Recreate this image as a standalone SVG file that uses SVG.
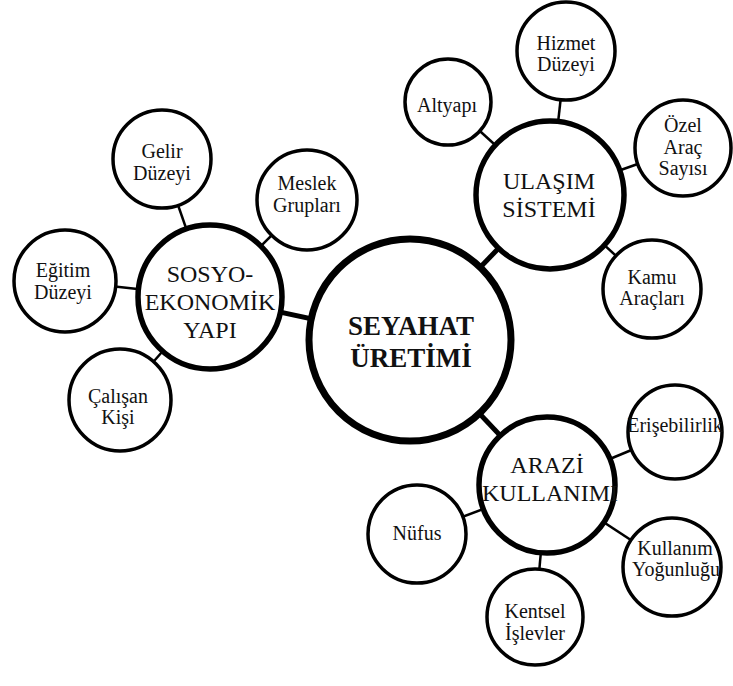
<svg xmlns="http://www.w3.org/2000/svg" width="733" height="686" viewBox="0 0 733 686">
  <style>
    .bg { fill: #ffffff; }
    .hub { fill: #ffffff; stroke: #000; stroke-width: 7; }
    .mid { fill: #ffffff; stroke: #000; stroke-width: 5.5; }
    .leaf { fill: #ffffff; stroke: #000; stroke-width: 3.5; }
    .link-main { stroke: #000; stroke-width: 5; }
    .link { stroke: #000; stroke-width: 2.5; }
    .t-hub { font-size: 27px; font-weight: bold; }
    .t-mid { font-size: 24px; }
    .t-leaf { font-size: 20px; }
  </style>
  <rect class="bg" x="0" y="0" width="733" height="686"/>

  <!-- connectors run centre to centre; the filled circles hide their inner parts -->
  <g id="connectors">
    <line class="link-main" x1="410" y1="340" x2="210" y2="297"/>
    <line class="link-main" x1="410" y1="340" x2="550" y2="195"/>
    <line class="link-main" x1="410" y1="340" x2="547" y2="485"/>
    <line class="link" x1="210" y1="297" x2="162" y2="159"/>
    <line class="link" x1="210" y1="297" x2="307" y2="200"/>
    <line class="link" x1="210" y1="297" x2="65" y2="281"/>
    <line class="link" x1="210" y1="297" x2="120" y2="400"/>
    <line class="link" x1="550" y1="195" x2="448" y2="102"/>
    <line class="link" x1="550" y1="195" x2="566" y2="51"/>
    <line class="link" x1="550" y1="195" x2="683" y2="148"/>
    <line class="link" x1="550" y1="195" x2="652" y2="289"/>
    <line class="link" x1="547" y1="485" x2="675" y2="432"/>
    <line class="link" x1="547" y1="485" x2="672" y2="567"/>
    <line class="link" x1="547" y1="485" x2="535" y2="617"/>
    <line class="link" x1="547" y1="485" x2="417" y2="534"/>
  </g>

  <g font-family="'Liberation Serif', 'DejaVu Serif', serif" fill="#111" text-anchor="middle">
  <g id="seyahat-uretimi">
    <circle class="hub" cx="410" cy="340" r="101"/>
    <text class="t-hub" x="411" y="335">SEYAHAT</text>
    <text class="t-hub" x="411" y="367">ÜRETİMİ</text>
  </g>

  <g id="sosyo-ekonomik-yapi">
    <circle class="mid" cx="210" cy="297" r="72"/>
    <text class="t-mid" x="210" y="282">SOSYO-</text>
    <text class="t-mid" x="210" y="310">EKONOMİK</text>
    <text class="t-mid" x="210" y="338">YAPI</text>
  </g>

  <g id="ulasim-sistemi">
    <circle class="mid" cx="550" cy="195" r="74"/>
    <text class="t-mid" x="549" y="189">ULAŞIM</text>
    <text class="t-mid" x="549" y="217">SİSTEMİ</text>
  </g>

  <g id="arazi-kullanimi">
    <circle class="mid" cx="547" cy="485" r="68"/>
    <text class="t-mid" x="547" y="473">ARAZİ</text>
    <text class="t-mid" x="550" y="501">KULLANIMI</text>
  </g>

  <g id="gelir-duzeyi">
    <circle class="leaf" cx="162" cy="159" r="49"/>
    <text class="t-leaf" x="162" y="158">Gelir</text>
    <text class="t-leaf" x="162" y="180">Düzeyi</text>
  </g>

  <g id="meslek-gruplari">
    <circle class="leaf" cx="307" cy="200" r="50"/>
    <text class="t-leaf" x="307" y="190">Meslek</text>
    <text class="t-leaf" x="307" y="212">Grupları</text>
  </g>

  <g id="egitim-duzeyi">
    <circle class="leaf" cx="65" cy="281" r="51"/>
    <text class="t-leaf" x="63" y="277">Eğitim</text>
    <text class="t-leaf" x="63" y="299">Düzeyi</text>
  </g>

  <g id="calisan-kisi">
    <circle class="leaf" cx="120" cy="400" r="51"/>
    <text class="t-leaf" x="118" y="403">Çalışan</text>
    <text class="t-leaf" x="118" y="424">Kişi</text>
  </g>

  <g id="altyapi">
    <circle class="leaf" cx="448" cy="102" r="43"/>
    <text class="t-leaf" x="447" y="112">Altyapı</text>
  </g>

  <g id="hizmet-duzeyi">
    <circle class="leaf" cx="566" cy="51" r="49"/>
    <text class="t-leaf" x="566" y="50">Hizmet</text>
    <text class="t-leaf" x="566" y="71">Düzeyi</text>
  </g>

  <g id="ozel-arac-sayisi">
    <circle class="leaf" cx="683" cy="148" r="48"/>
    <text class="t-leaf" x="683" y="132">Özel</text>
    <text class="t-leaf" x="683" y="154">Araç</text>
    <text class="t-leaf" x="683" y="175">Sayısı</text>
  </g>

  <g id="kamu-araclari">
    <circle class="leaf" cx="652" cy="289" r="49"/>
    <text class="t-leaf" x="652" y="284">Kamu</text>
    <text class="t-leaf" x="652" y="305">Araçları</text>
  </g>

  <g id="erisebilirlik">
    <circle class="leaf" cx="675" cy="432" r="47"/>
    <text class="t-leaf" x="675" y="432">Erişebilirlik</text>
  </g>

  <g id="kullanim-yogunlugu">
    <circle class="leaf" cx="672" cy="567" r="49"/>
    <text class="t-leaf" x="675" y="555">Kullanım</text>
    <text class="t-leaf" x="676" y="576">Yoğunluğu</text>
  </g>

  <g id="kentsel-islevler">
    <circle class="leaf" cx="535" cy="617" r="48"/>
    <text class="t-leaf" x="535" y="618">Kentsel</text>
    <text class="t-leaf" x="535" y="640">İşlevler</text>
  </g>

  <g id="nufus">
    <circle class="leaf" cx="417" cy="534" r="49"/>
    <text class="t-leaf" x="417" y="540">Nüfus</text>
  </g>
  </g>
</svg>
